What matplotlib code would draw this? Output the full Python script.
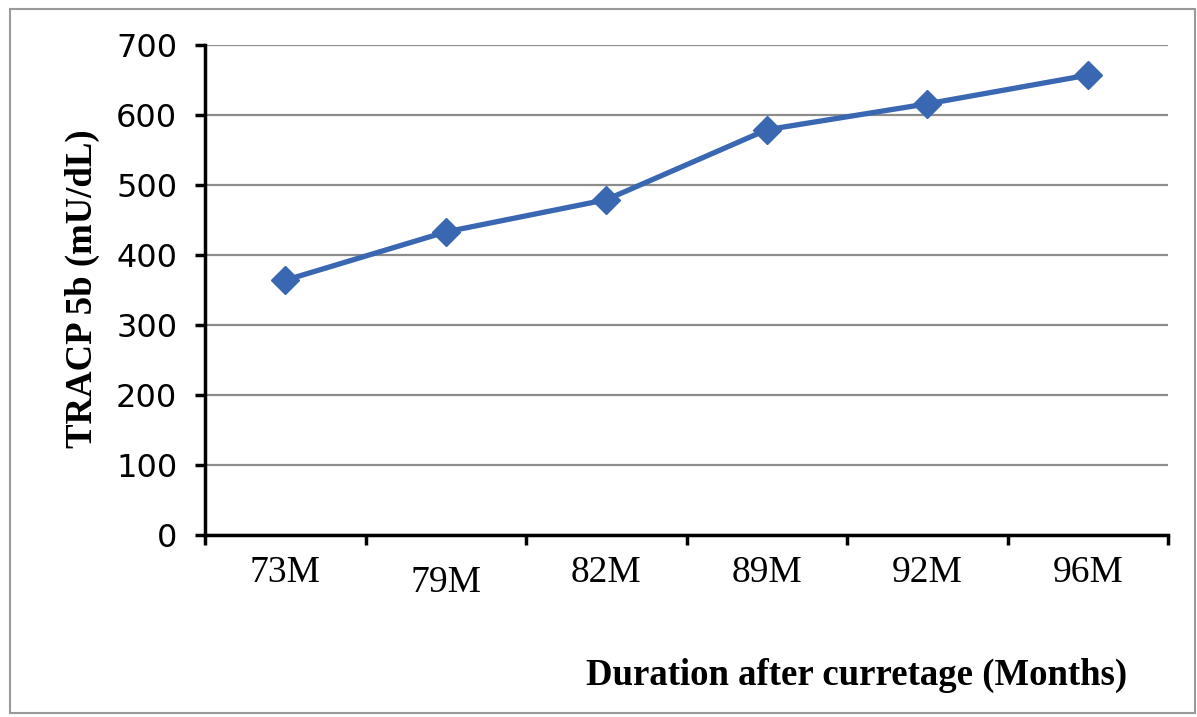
import matplotlib.pyplot as plt
from matplotlib.patches import Rectangle
import numpy as np

months = ['73M', '79M', '82M', '89M', '92M', '96M']
tracp = [364, 433, 479, 579, 616, 657]
yticks = [0, 100, 200, 300, 400, 500, 600, 700]

fig = plt.figure(figsize=(11.97, 7.17), dpi=100)
ax = fig.add_axes([0.1713, 0.2538, 0.8045, 0.6834])

x = np.arange(len(months))
ax.plot(x, tracp, color='#3A67B2', lw=3.8, marker='D', ms=14, zorder=3)

ax.set_xlim(-0.5, len(months) - 0.5)
ax.set_ylim(0, 700)
ax.set_yticks(yticks)
ax.yaxis.grid(True, color='#8c8c8c', lw=1.6)
ax.set_axisbelow(True)

# labels at category centres, tick marks at category boundaries
ax.set_xticks(x)
ax.set_xticklabels(months, fontfamily='Liberation Serif', fontsize=27)
ax.tick_params(axis='x', which='major', length=0, pad=15)
ax.set_xticks(np.arange(-0.5, len(months)), minor=True)
ax.tick_params(axis='x', which='minor', length=7, width=2.5, direction='out')
ax.xaxis.get_major_ticks()[1].set_pad(22)

ax.tick_params(axis='y', length=7, width=2.5, pad=13, labelsize=23)
for t in ax.get_yticklabels():
    t.set_fontfamily('DejaVu Sans')

for s in ['top', 'right']:
    ax.spines[s].set_visible(False)
for s in ['left', 'bottom']:
    ax.spines[s].set_linewidth(2.5)

fig.text(0.7155, 0.058, 'Duration after curretage (Months)', ha='center', va='center',
         fontfamily='Liberation Serif', fontweight='bold', fontsize=26.5)
fig.text(0.069, 0.598, 'TRACP 5b (mU/dL)', ha='center', va='center', rotation=90,
         fontfamily='Liberation Serif', fontweight='bold', fontsize=26.5)

fig.patches.append(Rectangle((0.008, 0.006), 0.99, 0.982, transform=fig.transFigure,
                             fill=False, edgecolor='#9a9a9a', lw=1.5))

fig.savefig('out.png', dpi=100)
